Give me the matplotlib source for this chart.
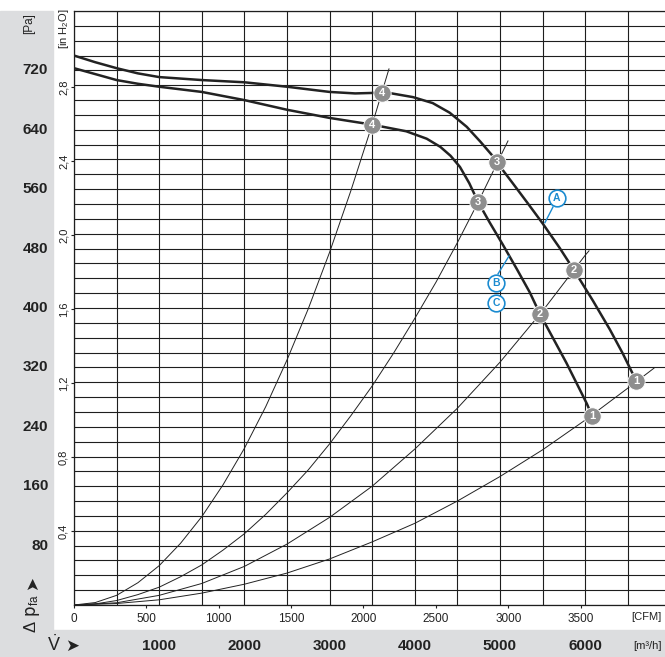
import numpy as np
import matplotlib
matplotlib.use("Agg")
import matplotlib.pyplot as plt
from matplotlib.patches import Rectangle
from matplotlib import transforms

FONT = ["Liberation Sans", "DejaVu Sans"]
plt.rcParams["mathtext.fontset"] = "custom"
plt.rcParams["mathtext.rm"] = "Liberation Sans"
plt.rcParams["mathtext.it"] = "Liberation Sans:italic"

# fan curves, flow in m3/h, pressure in Pa
flow_a = [0, 250, 500, 750, 1000, 1250, 1500, 2000, 2500, 3000, 3300, 3615, 3730, 3980,
          4210, 4410, 4610, 4770, 4920, 4965, 5150, 5320, 5500, 5700, 5869, 6090,
          6290, 6440, 6560, 6596]
pres_a = [740, 731, 723, 716, 711, 709, 707, 704, 698, 691, 689, 690, 689, 684,
          676, 663, 644, 624, 604, 596, 568, 542, 514, 481, 451, 410,
          371, 339, 311, 302]

flow_b = [0, 250, 500, 750, 1000, 1500, 2000, 2500, 3000, 3498, 3630, 3900, 4140,
          4300, 4420, 4530, 4640, 4742, 4880, 5030, 5200, 5350, 5469, 5620, 5780,
          5920, 6020, 6080]
pres_b = [723, 715, 707, 702, 698, 691, 680, 667, 656, 647, 644, 638, 628,
          617, 605, 590, 568, 543, 515, 486, 452, 421, 392, 360, 326,
          294, 271, 255]

# operating points 1..4
op_labels = ["1", "2", "3", "4"]
op_flow_a = [6596, 5869, 4965, 3615]
op_pres_a = [302, 451, 596, 690]
op_flow_b = [6080, 5469, 4742, 3498]
op_pres_b = [255, 392, 543, 647]

# system resistance curves
sys1_flow = [0, 500, 1000, 1500, 2000, 2500, 3000, 3500, 4000, 4500, 5000, 5500, 6000, 6500, 6808]
sys1_pres = [0, 2, 7, 16, 28, 43, 62, 85, 110, 140, 173, 209, 249, 292, 319]

sys2_flow = [0, 500, 1000, 1500, 2000, 2500, 3000, 3500, 4000, 4500, 5000, 5500, 6000, 6045]
sys2_pres = [0, 3, 13, 29, 52, 82, 118, 160, 210, 265, 327, 396, 471, 477]

sys3_flow = [0, 250, 500, 750, 1000, 1250, 1500, 1750, 2000, 2250, 2500, 2750, 3000,
             3250, 3500, 3750, 4000, 4250, 4500, 4750, 5000, 5094]
sys3_pres = [0, 1.5, 6, 14, 24, 38, 54, 74, 96, 122, 151, 182, 217,
             255, 295, 339, 386, 435, 488, 544, 603, 625]

sys4_flow = [0, 250, 500, 750, 1000, 1250, 1500, 1750, 2000, 2250, 2500, 2750, 3000,
             3250, 3500, 3697]
sys4_pres = [0, 3.3, 13, 30, 53, 83, 119, 162, 211, 267, 330, 399, 475,
             558, 647, 722]

# axis labels
pa_ticks = [80, 160, 240, 320, 400, 480, 560, 640, 720]
inh2o_ticks = [0.4, 0.8, 1.2, 1.6, 2.0, 2.4, 2.8]
inh2o_labels = ["0,4", "0,8", "1,2", "1,6", "2,0", "2,4", "2,8"]
cfm_ticks = [0, 500, 1000, 1500, 2000, 2500, 3000, 3500]
m3h_ticks = [1000, 2000, 3000, 4000, 5000, 6000]

# curve tags A, B, C
tag_names = ["A", "B", "C"]
tag_flow = [5669, 4953, 4953]
tag_pres = [548, 434, 407]
lead_a_flow = [5622, 5528]
lead_a_pres = [536, 515]
lead_b_flow = [4977, 5106]
lead_b_pres = [446, 470]

W, H = 665, 657
ink = "#222222"
fig = plt.figure(figsize=(W / 100, H / 100), dpi=100)
gray = "#dcdddf"
fig.patches.append(Rectangle((0, 0), 53 / W, (H - 11) / H, transform=fig.transFigure,
                             color=gray, zorder=-5))
fig.patches.append(Rectangle((0, 0), 1, 27 / H, transform=fig.transFigure,
                             color=gray, zorder=-5))

ax = fig.add_axes([74 / W, 52 / H, 591 / W, 594 / H])
ax.set_xlim(0, 6937)
ax.set_ylim(0, 800)
ax.set_xticks(np.arange(0, 6937, 500))
ax.set_yticks(np.arange(0, 801, 20))
ax.tick_params(length=0, labelbottom=False, labelleft=False)
ax.grid(True, color="#1e1e1e", lw=0.8)
ax.set_axisbelow(True)
for s in ["left", "bottom", "top"]:
    ax.spines[s].set_color("#1e1e1e")
    ax.spines[s].set_linewidth(0.9)
ax.spines["right"].set_visible(False)

# system curves
for fx, py in [(sys1_flow, sys1_pres), (sys2_flow, sys2_pres),
               (sys3_flow, sys3_pres), (sys4_flow, sys4_pres)]:
    ax.plot(fx, py, color=ink, lw=0.7, zorder=3)

# fan curves
ax.plot(flow_a, pres_a, color=ink, lw=1.8, zorder=4, solid_joinstyle="round")
ax.plot(flow_b, pres_b, color=ink, lw=1.8, zorder=4, solid_joinstyle="round")

# operating point markers
for fx, py in [(op_flow_a, op_pres_a), (op_flow_b, op_pres_b)]:
    ax.plot(fx, py, "o", ms=12.5, mfc="#8e8e8e", mec="white", mew=0.6, zorder=5)
    for x, y, t in zip(fx, py, op_labels):
        ax.text(x, y, t, color="white", fontsize=8, fontweight="bold",
                ha="center", va="center", zorder=6, family=FONT)

# A / B / C tags
blue = "#1b8bd0"
ax.plot(lead_a_flow, lead_a_pres, color=blue, lw=1.0, zorder=5)
ax.plot(lead_b_flow, lead_b_pres, color=blue, lw=1.0, zorder=5)
ax.plot(tag_flow, tag_pres, "o", ms=12, mfc="white", mec=blue, mew=1.2, zorder=6)
for x, y, t in zip(tag_flow, tag_pres, tag_names):
    ax.text(x, y, t, color=blue, fontsize=7.5, fontweight="bold",
            ha="center", va="center", zorder=7, family=FONT)

# CFM axis at the bottom
sec_x = ax.secondary_xaxis("bottom", functions=(lambda v: v / 1.699, lambda c: c * 1.699))
sec_x.set_xticks(cfm_ticks)
sec_x.set_xticklabels([str(c) for c in cfm_ticks], fontsize=8.5, family=FONT, color=ink)
sec_x.tick_params(length=2.5, width=0.8, pad=3, color=ink)
sec_x.spines["bottom"].set_visible(False)

# in H2O axis on the left
sec_y = ax.secondary_yaxis("left", functions=(lambda p: p / 249.09, lambda h: h * 249.09))
sec_y.set_yticks(inh2o_ticks)
sec_y.set_yticklabels(inh2o_labels, rotation=90, va="center", fontsize=8,
                      family=FONT, color=ink)
sec_y.tick_params(length=2.5, width=0.8, pad=1.5, color=ink)
sec_y.spines["left"].set_visible(False)

# Pa labels
tr_pa = transforms.blended_transform_factory(fig.transFigure, ax.transData)
for p in pa_ticks:
    ax.text(48 / W, p, str(p), transform=tr_pa, ha="right", va="center",
            fontsize=11, fontweight="bold", family=FONT, color=ink)

# m3/h labels
tr_m3 = transforms.blended_transform_factory(ax.transData, fig.transFigure)
for v in m3h_ticks:
    ax.text(v, 1 - 646 / H, str(v), transform=tr_m3, ha="center", va="center",
            fontsize=11, fontweight="bold", family=FONT, color=ink)

fig.text(662 / W, 1 - 617 / H, "[CFM]", ha="right", va="center", fontsize=8,
         family=FONT, color=ink)
fig.text(662 / W, 1 - 646 / H, "[m³/h]", ha="right", va="center", fontsize=8,
         family=FONT, color=ink)
fig.text(29 / W, 1 - 24 / H, "[Pa]", rotation=90, ha="center", va="center",
         fontsize=8.5, family=FONT, color=ink)
fig.text(64 / W, 1 - 29 / H, "[in H$_2$O]", rotation=90, ha="center", va="center",
         fontsize=8, family=FONT, color=ink)

fig.text(54 / W, 1 - 645 / H, r"$\dot{\mathrm{V}}$", ha="center", va="center",
         fontsize=13, color=ink)
fig.text(72 / W, 1 - 646 / H, "➤", ha="center", va="center",
         fontsize=12, family="DejaVu Sans", color=ink)
fig.text(32 / W, 1 - 614 / H, r"$\Delta$ p$_{\mathrm{fa}}$", rotation=90,
         ha="center", va="center", fontsize=12, color=ink)
fig.text(32 / W, 1 - 583 / H, "➤", rotation=90, ha="center", va="center",
         fontsize=12, family="DejaVu Sans", color=ink)

fig.savefig("out.png", dpi=100)
